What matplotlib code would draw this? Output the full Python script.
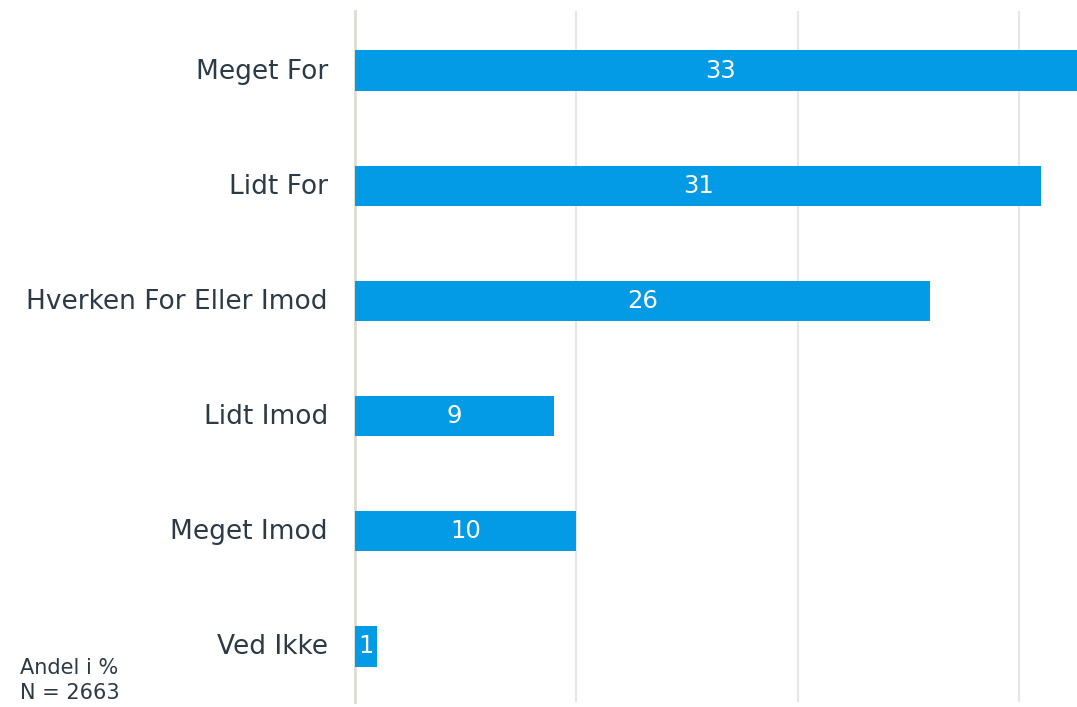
import matplotlib
matplotlib.use("Agg")
import matplotlib.pyplot as plt
from matplotlib.transforms import ScaledTranslation

categories = ["Meget For", "Lidt For", "Hverken For Eller Imod", "Lidt Imod", "Meget Imod", "Ved Ikke"]
values = [33, 31, 26, 9, 10, 1]
note_lines = ["Andel i %", "N = 2663"]

plt.rcParams['font.family'] = ['DejaVu Sans']
text_color = "#2b3a45"
bar_color = "#039be5"

fig = plt.figure(figsize=(10.77, 7.07), dpi=100)
ax = fig.add_axes([355/1077, 5/707, 722/1077, 691/707])

y = list(range(len(categories)))
ax.barh(y, values, height=0.35, color=bar_color, zorder=3)
off = -0.0174
ax.set_ylim(len(categories) - 0.5 + off, -0.5 + off)
ax.set_xlim(0, 32.62)
ax.set_xticks([0, 10, 20, 30])
ax.xaxis.grid(True, color="#e6e6e6", linewidth=1.5, zorder=0)
ax.set_xticklabels([])
ax.tick_params(axis='x', length=0)
ax.tick_params(axis='y', length=0, pad=19.5, labelsize=19, labelcolor=text_color)
ax.set_yticks(y)
ax.set_yticklabels(categories)
shift = ScaledTranslation(0, 2/100, fig.dpi_scale_trans)
for lab in ax.get_yticklabels():
    lab.set_transform(lab.get_transform() + shift)
for s in ["top", "right", "bottom"]:
    ax.spines[s].set_visible(False)
ax.spines["left"].set_color("#dedbd2")
ax.spines["left"].set_linewidth(2)
ax.spines["left"].set_zorder(2)

for yi, v in zip(y, values):
    ax.text(v / 2, yi, str(v), color="white", ha="center", va="center", fontsize=17.5, zorder=5)

fig.text(20/1077, 1 - 668/707, note_lines[0], color=text_color, fontsize=15, ha="left", va="center")
fig.text(20/1077, 1 - 693/707, note_lines[1], color=text_color, fontsize=15, ha="left", va="center")

fig.savefig("out.png", dpi=100)
